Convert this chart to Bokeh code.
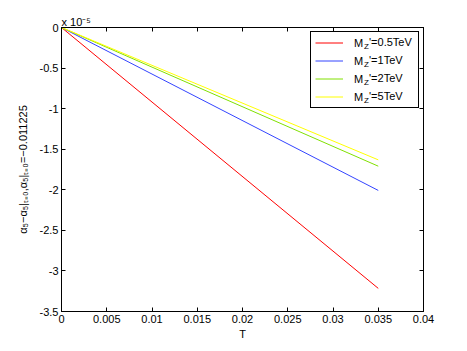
from bokeh.plotting import figure
from bokeh.models import (Range1d, FixedTicker, CustomJSTickFormatter, LinearAxis,
                          Legend, LegendItem, Label, ColumnDataSource)
from bokeh.embed import file_html
from bokeh.resources import INLINE

# ---- data (alpha_5 shift, in units of 1e-5) ----
T = [0.0, 0.035]
mz_05 = [0.0, -3.215]
mz_1 = [0.0, -2.008]
mz_2 = [0.0, -1.709]
mz_5 = [0.0, -1.631]

series_names = ["0.5TeV", "1TeV", "2TeV", "5TeV"]
series_colors = ["#ff0000", "#3344ff", "#80e000", "#ffff00"]
series_values = [mz_05, mz_1, mz_2, mz_5]

x_ticks = [0, 0.005, 0.01, 0.015, 0.02, 0.025, 0.03, 0.035, 0.04]
y_ticks = [-3.5, -3, -2.5, -2, -1.5, -1, -0.5, 0]

FONT = "Liberation Sans"

p = figure(width=459, height=343, output_backend="svg", toolbar_location=None,
           x_range=Range1d(0, 0.04), y_range=Range1d(-3.5, 0),
           min_border_left=61, min_border_right=36, min_border_top=27, min_border_bottom=32)
p.xgrid.visible = False
p.ygrid.visible = False
p.outline_line_color = "black"

fmt = CustomJSTickFormatter(code="return (Math.round(tick*100000)/100000).toString();")
empty_fmt = CustomJSTickFormatter(code="return '';")

for ax in p.xaxis:
    ax.ticker = FixedTicker(ticks=x_ticks)
for ax in p.yaxis:
    ax.ticker = FixedTicker(ticks=y_ticks)

for ax in list(p.xaxis) + list(p.yaxis):
    ax.formatter = fmt
    ax.major_tick_in = 4
    ax.major_tick_out = 0
    ax.minor_tick_in = 0
    ax.minor_tick_out = 0
    ax.axis_line_color = "black"
    ax.major_tick_line_color = "black"
    ax.major_label_text_font = FONT
    ax.major_label_text_font_size = "11px"
    ax.major_label_text_color = "black"
    ax.major_label_standoff = 3
    ax.axis_label_text_font = FONT
    ax.axis_label_text_font_size = "11px"
    ax.axis_label_text_font_style = "normal"
    ax.axis_label_text_color = "black"

p.xaxis.axis_label = "T"
p.xaxis.axis_label_standoff = 2
p.yaxis.axis_label = "α₅−α₅|ₜ₌₀,α₅|ₜ₌₀=−0.011225"
p.yaxis.axis_label_standoff = 8

for loc, ticks in (("above", x_ticks), ("right", y_ticks)):
    ax = LinearAxis(ticker=FixedTicker(ticks=ticks), formatter=empty_fmt,
                    major_tick_in=4, major_tick_out=0, minor_tick_in=0, minor_tick_out=0,
                    major_label_standoff=0, major_label_text_font_size="1px",
                    axis_line_color="black", major_tick_line_color="black")
    p.add_layout(ax, loc)

# exponent shown above the axes, MATLAB style
p.title.text = "x 10⁻⁵"
p.title.align = "left"
p.title.offset = 0
p.title.standoff = 0
p.title.text_font = FONT
p.title.text_font_size = "11px"
p.title.text_font_style = "normal"
p.title.text_color = "black"

items = []
for name, col, vals in zip(series_names, series_colors, series_values):
    src = ColumnDataSource(dict(t=T, v=vals))
    r = p.line("t", "v", source=src, line_color=col, line_width=1)
    items.append(LegendItem(label="M", renderers=[r]))

legend = Legend(items=items, location="top_right", margin=4, padding=4, spacing=5,
                glyph_width=28, glyph_height=13, label_height=13, label_width=60,
                label_standoff=11, label_text_font=FONT, label_text_font_size="11px",
                label_text_color="black",
                border_line_color="black", border_line_width=1, border_line_alpha=1,
                background_fill_alpha=0)
p.add_layout(legend)

# subscript Z and the rest of each legend label
for i, name in enumerate(series_names):
    fy = 269.5 - 18 * i
    p.add_layout(Label(x=302.5, y=fy - 4, x_units="screen", y_units="screen", text="Z",
                       text_font=FONT, text_font_size="8px", text_baseline="middle",
                       text_color="black", level="overlay"))
    p.add_layout(Label(x=307.5, y=fy, x_units="screen", y_units="screen",
                       text="'=" + name, text_font=FONT, text_font_size="11px",
                       text_baseline="middle", text_color="black", level="overlay"))

open("out.html", "w").write(file_html(p, INLINE))
